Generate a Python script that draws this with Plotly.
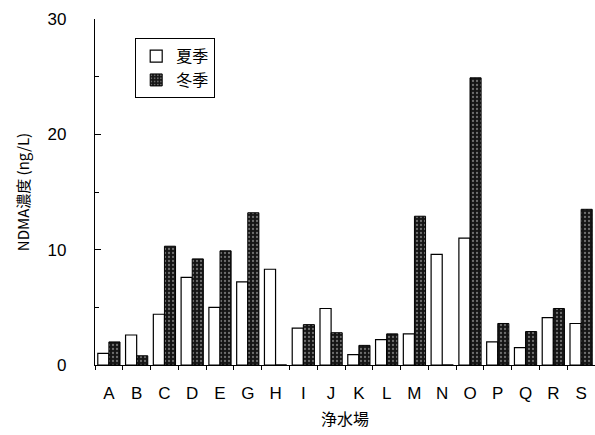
import plotly.graph_objects as go

categories = ["A", "B", "C", "D", "E", "G", "H", "I", "J", "K", "L", "M", "N", "O", "P", "Q", "R", "S"]
summer = [1.0, 2.6, 4.4, 7.6, 5.0, 7.2, 8.3, 3.2, 4.9, 0.9, 2.2, 2.7, 9.6, 11.0, 2.0, 1.5, 4.1, 3.6]
winter = [2.0, 0.8, 10.3, 9.2, 9.9, 13.2, 0.0, 3.5, 2.8, 1.7, 2.7, 12.9, 0.0, 24.9, 3.6, 2.9, 4.9, 13.5]
yticks = [0, 10, 20, 30]

font = "Liberation Sans, Arial, Noto Sans CJK JP, sans-serif"
cjk = "Noto Sans CJK JP, sans-serif"

fig = go.Figure()
fig.add_bar(x=categories, y=summer, name="夏季",
            marker=dict(color="white", line=dict(color="black", width=1.2)))
fig.add_bar(x=categories, y=winter, name="冬季",
            marker=dict(color="#151515", line=dict(color="black", width=1),
                        pattern=dict(shape=".", fgcolor="#c8c8c8", bgcolor="#151515",
                                     size=4, solidity=0.25)))

fig.update_layout(
    width=595, height=435,
    margin=dict(l=95, r=0, t=19, b=70, autoexpand=False),
    paper_bgcolor="white", plot_bgcolor="white",
    barmode="group", bargap=0.2, bargroupgap=0.0,
    font=dict(family=font, color="black"),
    showlegend=True,
    legend=dict(x=0.08, y=0.945, xanchor="left", yanchor="top",
                bordercolor="black", borderwidth=1.2, bgcolor="white",
                font=dict(size=16, family=cjk),
                tracegroupgap=12, itemwidth=30),
)
fig.update_xaxes(
    showline=True, linecolor="black", linewidth=1.2,
    ticks="outside", ticklen=4, tickson="boundaries", tickcolor="black",
    tickfont=dict(size=17), showgrid=False, ticklabelstandoff=12,
    title=dict(text="浄水場", font=dict(size=16, family=cjk), standoff=12),
)
fig.update_yaxes(
    range=[0, 30], tickvals=yticks, showline=True, linecolor="black", linewidth=1.2,
    ticks="inside", ticklen=6, tickcolor="black",
    minor=dict(dtick=5, ticks="inside", ticklen=4, tickcolor="black"),
    ticklabelstandoff=24,
    tickfont=dict(size=17), showgrid=False, zeroline=False,
    title=dict(text="NDMA濃度 (ng/L)", font=dict(size=15, family=cjk), standoff=14),
)

fig.write_html("out.html", config={"displayModeBar": False},
               post_script="document.body.style.margin='0';document.body.style.overflow='hidden';")
